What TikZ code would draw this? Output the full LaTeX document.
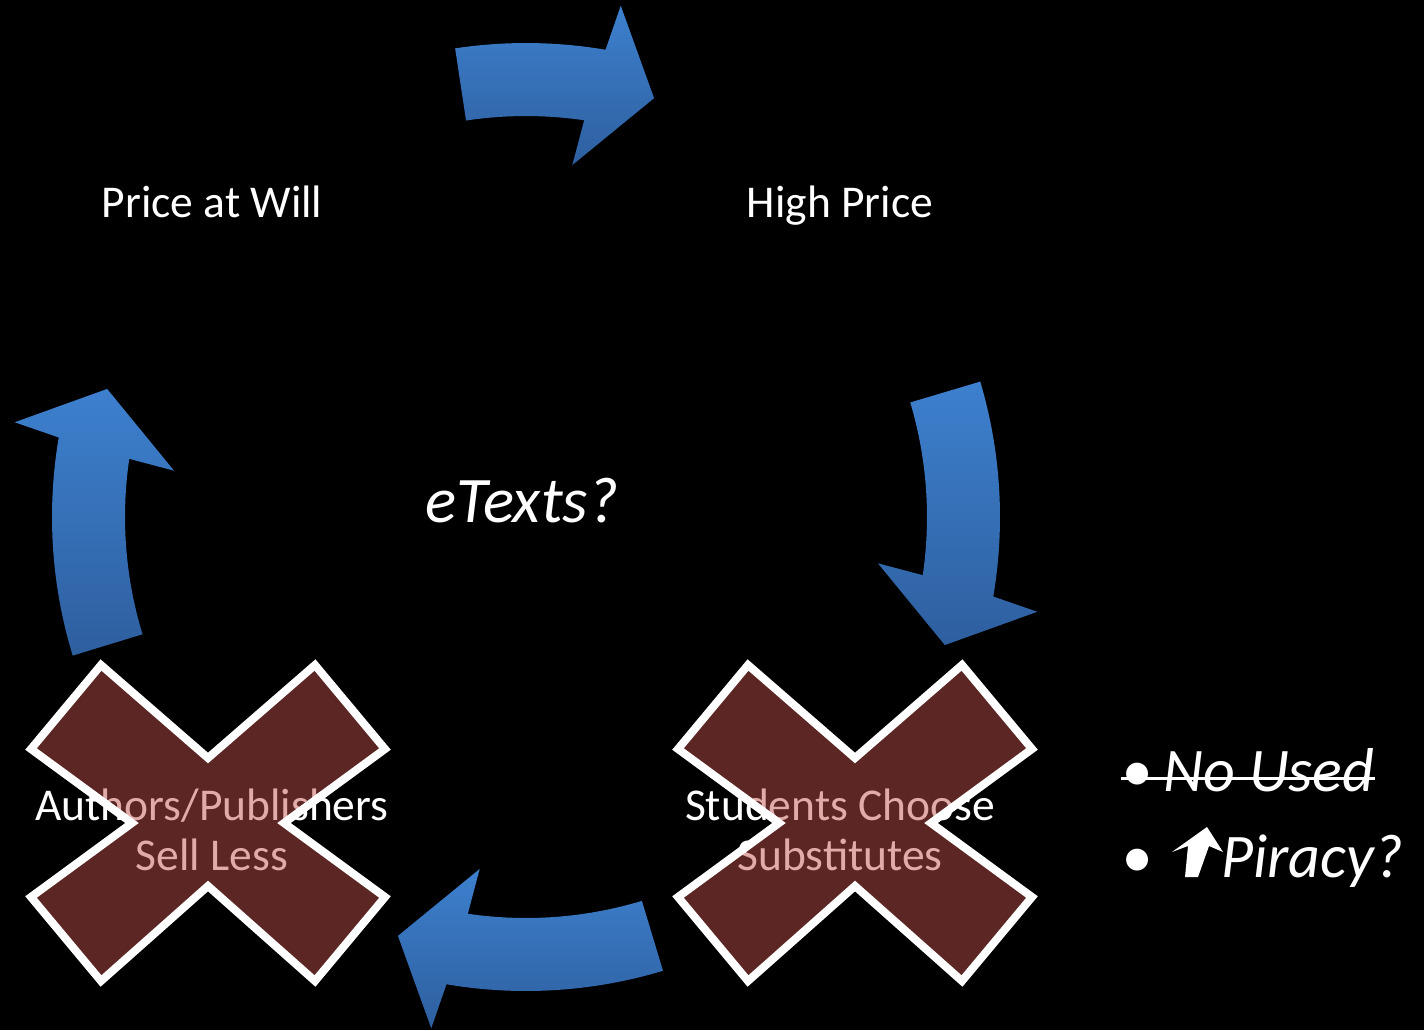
\documentclass[tikz,border=0pt]{standalone}
\usepackage{fontspec}
\setmainfont{Carlito}
\definecolor{arrowtop}{HTML}{3D80CE}
\definecolor{arrowbot}{HTML}{2E5F9F}
\definecolor{crossred}{HTML}{C0504D}
\begin{document}
\begin{tikzpicture}[x=1bp,y=-1bp,
  cyclelabel/.style={text=white,inner sep=0pt,align=center,font=\fontsize{45.5bp}{50bp}\selectfont},
  sidenote/.style={text=white,inner sep=0pt,font=\fontsize{62bp}{64bp}\selectfont\itshape},
  cyclearrow/.style={top color=arrowtop,bottom color=arrowbot},
  crossmark/.style={draw=white,line width=8bp,fill=crossred,fill opacity=.48}]
  \fill[black] (0,0) rectangle (1424,1030);
  \useasboundingbox (0,0) rectangle (1424,1030);
  % circular arrows round the cycle
  \begin{scope}[shift={(526,517)}]
    \foreach \q/\t in {-90/8.6,0/16.6,90/16.8,180/17}
      \shade[cyclearrow] (\q-\t:474) arc[start angle=\q-\t,end angle=\q+9.66,radius=474]
        -- (\q+10.5:520) -- (\q+17:438) -- (\q+7.5:355) -- (\q+8.34:401)
        arc[start angle=\q+8.34,end angle=\q-\t,radius=401] -- cycle;
  \end{scope}
  \node[cyclelabel,anchor=base] (will) at (212,217) {Price at Will};
  \node[cyclelabel,anchor=base] (high) at (840,217) {High Price};
  \node[cyclelabel,anchor=base] (subst) at (840,870) {Students Choose\\Substitutes};
  \node[cyclelabel,anchor=base] (less) at (212,870) {Authors/Publishers\\Sell Less};
  \node[text=white,inner sep=0pt,anchor=base,font=\fontsize{65bp}{65bp}\selectfont\itshape] (etexts) at (522,522) {eTexts?};
  % crosses over the two bottom steps
  \foreach \cx in {208,855}
    \filldraw[crossmark,shift={(\cx,823)}] (0,-65) -- (107,-158) -- (177,-74) -- (76,0)
      -- (177,74) -- (107,158) -- (0,63) -- (-107,158) -- (-177,74) -- (-76,0)
      -- (-177,-74) -- (-107,-158) -- cycle;
  % side notes
  \node[sidenote,anchor=base] (nodot) at (1137,791) {•};
  \node[sidenote,anchor=base west] (noused) at (1163,791) {No Used};
  \draw[white,line width=3bp] ([yshift=13bp]nodot.base west) -- ([yshift=13bp]noused.base east);
  \node[sidenote,anchor=base] (pirdot) at (1137,877) {•};
  \fill[white] (1207,827) -- (1223,852) -- (1209,846) -- (1198,877) -- (1185,877)
    -- (1188,846) -- (1172,852) -- cycle;
  \node[sidenote,anchor=base west] (piracy) at (1221,877) {Piracy?};
\end{tikzpicture}
\end{document}
